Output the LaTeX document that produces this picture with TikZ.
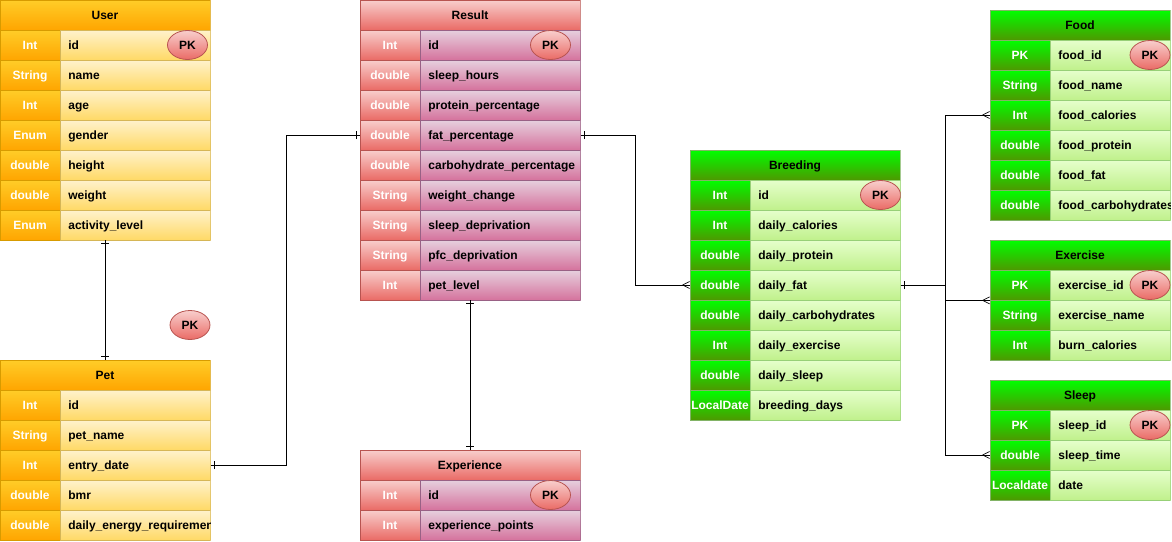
\documentclass[tikz,border=0pt]{standalone}
\usepackage{fontspec}
\setmainfont{Liberation Sans}
\usepackage{tikz}
\usetikzlibrary{shapes.geometric,decorations.markings}
\usepackage{xcolor}
\definecolor{erorange}{RGB}{255,205,40}
\definecolor{erorange2}{RGB}{255,165,0}
\definecolor{erorangeline}{RGB}{215,155,0}
\definecolor{eryellow}{RGB}{255,242,204}
\definecolor{eryellow2}{RGB}{255,217,102}
\definecolor{eryellowline}{RGB}{214,182,86}
\definecolor{erred}{RGB}{248,206,204}
\definecolor{erred2}{RGB}{234,107,102}
\definecolor{erredline}{RGB}{184,84,80}
\definecolor{erpink}{RGB}{230,208,222}
\definecolor{erpink2}{RGB}{213,115,157}
\definecolor{erpinkline}{RGB}{153,97,133}
\definecolor{ergreen}{RGB}{0,255,0}
\definecolor{ergreen2}{RGB}{77,153,0}
\definecolor{ergreenline}{RGB}{130,179,102}
\definecolor{erlime}{RGB}{230,255,204}
\definecolor{erlime2}{RGB}{192,240,140}
\definecolor{erlimeline}{RGB}{151,208,119}
\tikzstyle{cell} = [rectangle, minimum height=30pt, inner xsep=1pt, inner ysep=0pt, text height=8.5pt, text depth=0.5pt, line width=0.8pt]
\tikzstyle{typecell} = [cell, minimum width=60pt, text=white]
\tikzstyle{fieldcell} = [cell, anchor=west, inner xsep=8pt, text=black]
\tikzstyle{orangehead} = [top color=erorange, bottom color=erorange2, draw=erorangeline]
\tikzstyle{orangefield} = [top color=eryellow, bottom color=eryellow2, draw=eryellowline]
\tikzstyle{redhead} = [top color=erred, bottom color=erred2, draw=erredline]
\tikzstyle{redfield} = [top color=erpink, bottom color=erpink2, draw=erpinkline]
\tikzstyle{greenhead} = [top color=ergreen, bottom color=ergreen2, draw=ergreenline]
\tikzstyle{greenfield} = [top color=erlime, bottom color=erlime2, draw=erlimeline]
\tikzstyle{pkbadge} = [ellipse, minimum width=40pt, minimum height=29pt, inner sep=0pt, text height=8.5pt, text depth=0.5pt, line width=0.8pt, redhead]
\tikzstyle{link} = [line width=1pt, black]
\tikzstyle{onestart} = [postaction={decorate, decoration={markings, mark=at position 3.5pt with {\draw[line width=1pt] (0,-4pt) -- (0,4pt);}}}]
\tikzstyle{oneend} = [postaction={decorate, decoration={markings, mark=at position -3.5pt with {\draw[line width=1pt] (0,-4pt) -- (0,4pt);}}}]
\tikzstyle{crowend} = [postaction={decorate, decoration={markings, mark=at position 1 with {\draw[line width=0.7pt] (-7pt,0) -- (0,3.5pt) (-7pt,0) -- (0,-3.5pt);}}}]

\begin{document}
\begin{tikzpicture}[x=1pt, y=-1pt, font=\fontsize{12}{14}\selectfont\bfseries]
\useasboundingbox (0,0) rectangle (1172,541);

% User
\begin{scope}
\clip (-0.5,-0.5) rectangle (210.5,240.5);
\node (user) [cell, orangehead, minimum width=210pt] at (105,15) {User};
\foreach \ty/\fd [count=\i] in {Int/id, String/name, Int/age, Enum/gender, double/height, double/weight, Enum/activity\_level} {
  \node (user-t\i) [typecell, orangehead] at (30,15+30*\i) {\ty};
  \node (user-f\i) [fieldcell, orangefield] at (60,15+30*\i) {\makebox[134pt][l]{\fd}};
}
\node (user-pk) [pkbadge] at (187.5,45) {PK};
\end{scope}

% Pet
\begin{scope}
\clip (-0.5,359.5) rectangle (210.5,541);
\node (pet) [cell, orangehead, minimum width=210pt] at (105,375) {Pet};
\foreach \ty/\fd [count=\i] in {Int/id, String/pet\_name, Int/entry\_date, double/bmr, double/daily\_energy\_requirement} {
  \node (pet-t\i) [typecell, orangehead] at (30,375+30*\i) {\ty};
  \node (pet-f\i) [fieldcell, orangefield] at (60,375+30*\i) {\makebox[134pt][l]{\fd}};
}
\end{scope}
\node (pet-pk) [pkbadge] at (190,325) {PK};

% Result
\begin{scope}
\clip (359.5,-0.5) rectangle (580.5,300.5);
\node (result) [cell, redhead, minimum width=220pt] at (470,15) {Result};
\foreach \ty/\fd [count=\i] in {Int/id, double/sleep\_hours, double/protein\_percentage, double/fat\_percentage, double/carbohydrate\_percentage, String/weight\_change, String/sleep\_deprivation, String/pfc\_deprivation, Int/pet\_level} {
  \node (result-t\i) [typecell, redhead] at (390,15+30*\i) {\ty};
  \node (result-f\i) [fieldcell, redfield] at (420,15+30*\i) {\makebox[144pt][l]{\fd}};
}
\node (result-pk) [pkbadge] at (550.5,45) {PK};
\end{scope}

% Experience
\begin{scope}
\clip (359.5,449.5) rectangle (580.5,541);
\node (exp) [cell, redhead, minimum width=220pt] at (470,465) {Experience};
\foreach \ty/\fd [count=\i] in {Int/id, Int/experience\_points} {
  \node (exp-t\i) [typecell, redhead] at (390,465+30*\i) {\ty};
  \node (exp-f\i) [fieldcell, redfield] at (420,465+30*\i) {\makebox[144pt][l]{\fd}};
}
\node (exp-pk) [pkbadge] at (550.5,495) {PK};
\end{scope}

% Breeding
\begin{scope}
\clip (689.5,149.5) rectangle (900.5,420.5);
\node (breed) [cell, greenhead, minimum width=210pt] at (795,165) {Breeding};
\foreach \ty/\fd [count=\i] in {Int/id, Int/daily\_calories, double/daily\_protein, double/daily\_fat, double/daily\_carbohydrates, Int/daily\_exercise, double/daily\_sleep, LocalDate/breeding\_days} {
  \node (breed-t\i) [typecell, greenhead] at (720,165+30*\i) {\ty};
  \node (breed-f\i) [fieldcell, greenfield] at (750,165+30*\i) {\makebox[134pt][l]{\fd}};
}
\node (breed-pk) [pkbadge] at (880.5,195) {PK};
\end{scope}

% Food
\begin{scope}
\clip (989.5,9.5) rectangle (1170.5,220.5);
\node (food) [cell, greenhead, minimum width=180pt] at (1080,25) {Food};
\foreach \ty/\fd [count=\i] in {PK/food\_id, String/food\_name, Int/food\_calories, double/food\_protein, double/food\_fat, double/food\_carbohydrates} {
  \node (food-t\i) [typecell, greenhead] at (1020,25+30*\i) {\ty};
  \node (food-f\i) [fieldcell, greenfield] at (1050,25+30*\i) {\makebox[104pt][l]{\fd}};
}
\node (food-pk) [pkbadge] at (1150,55) {PK};
\end{scope}

% Exercise
\begin{scope}
\clip (989.5,239.5) rectangle (1170.5,360.5);
\node (exer) [cell, greenhead, minimum width=180pt] at (1080,255) {Exercise};
\foreach \ty/\fd [count=\i] in {PK/exercise\_id, String/exercise\_name, Int/burn\_calories} {
  \node (exer-t\i) [typecell, greenhead] at (1020,255+30*\i) {\ty};
  \node (exer-f\i) [fieldcell, greenfield] at (1050,255+30*\i) {\makebox[104pt][l]{\fd}};
}
\node (exer-pk) [pkbadge] at (1150,285) {PK};
\end{scope}

% Sleep
\begin{scope}
\clip (989.5,379.5) rectangle (1170.5,500.5);
\node (sleep) [cell, greenhead, minimum width=180pt] at (1080,395) {Sleep};
\foreach \ty/\fd [count=\i] in {PK/sleep\_id, double/sleep\_time, Localdate/date} {
  \node (sleep-t\i) [typecell, greenhead] at (1020,395+30*\i) {\ty};
  \node (sleep-f\i) [fieldcell, greenfield] at (1050,395+30*\i) {\makebox[104pt][l]{\fd}};
}
\node (sleep-pk) [pkbadge] at (1150,425) {PK};
\end{scope}

% Links
\draw[link, onestart, oneend] (user.center |- user-f7.south) -- (pet.north);
\draw[link, onestart, oneend] (pet-f3.east) -- ++(76,0) |- (result-t4.west);
\draw[link, onestart, oneend] (exp.north |- result-f9.south) -- (exp.north);
\draw[link, onestart, crowend] (result-f4.east) -- ++(55,0) |- (breed-t4.west);
\draw[link, onestart, crowend] (breed-f4.east) -- ++(45,0) |- (food-t3.west);
\draw[link, crowend] (breed-f4.east) -- ++(45,0) |- (exer-t1.south west);
\draw[link, crowend] (breed-f4.east) -- ++(45,0) |- (sleep-t2.west);
\end{tikzpicture}
\end{document}
